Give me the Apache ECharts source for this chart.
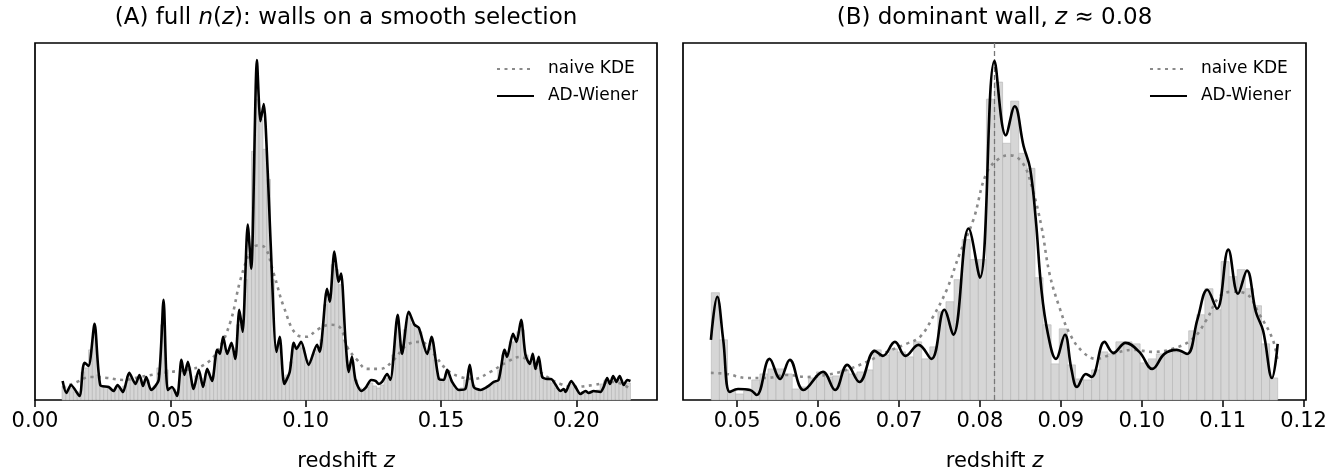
<!DOCTYPE html>
<html>
<head>
<meta charset="utf-8">
<script src="https://cdn.jsdelivr.net/npm/echarts@6/dist/echarts.min.js"></script>
<style>
  html, body { margin: 0; padding: 0; background: #fff; }
  #chart { width: 1343px; height: 474px; }
</style>
</head>
<body>
<div id="chart"></div>
<script>
// ---------- Panel A: full redshift range ----------
const histA_start = 0.01;      // first bin edge
const histA_width = 0.0014;    // bin width
const histA_counts = [
  1.4,1.0,1.2,0.8,0.8,2.8,3.2,5.0,6.8,2.5,
  1.4,1.3,1.2,1.0,1.3,1.0,1.4,2.4,2.0,1.8,
  2.2,1.5,2.0,1.2,1.4,3.2,7.5,3.0,1.2,1.1,
  0.8,3.4,2.8,3.3,1.6,2.4,2.2,1.5,2.8,2.2,
  4.2,5.0,5.8,4.8,5.2,4.6,7.5,7.2,12.0,14.5,
  24.8,30.0,28.0,25.0,22.0,12.0,5.5,5.5,2.2,2.5,
  3.8,5.2,5.4,5.2,4.0,3.8,4.6,5.0,6.0,9.5,
  10.0,13.5,13.0,11.5,6.0,3.5,3.8,2.0,1.2,1.0,
  1.3,1.7,1.4,1.2,1.5,2.2,2.0,4.5,7.8,5.5,
  7.0,8.2,7.6,7.2,6.8,5.5,4.8,5.8,4.0,2.2,
  1.8,2.6,2.0,1.4,1.1,1.2,2.0,3.0,1.5,1.1,
  1.0,1.2,1.4,1.6,1.7,3.0,4.5,4.4,5.8,5.8,
  6.8,7.0,4.5,3.6,3.8,3.6,2.4,2.0,2.0,1.7,
  1.2,0.9,1.0,1.2,1.6,1.2,0.7,0.8,0.7,0.8,
  0.8,1.0,1.6,2.0,1.8,2.1,2.0,2.0,1.5,1.7
];
const kdeA = [
  [0.0102,1.2],[0.0155,1.8],[0.0204,2.3],[0.0266,2.2],[0.0327,2.0],[0.0389,2.3],
  [0.0451,2.6],[0.0500,2.8],[0.0562,3.0],[0.0624,3.5],[0.0673,4.8],[0.0722,7.8],
  [0.0759,12.0],[0.0796,14.8],[0.0820,15.4],[0.0845,15.3],[0.0882,12.6],[0.0919,9.3],
  [0.0968,6.5],[0.1005,6.3],[0.1042,7.0],[0.1091,7.5],[0.1128,7.2],[0.1153,5.3],
  [0.1190,4.0],[0.1227,3.1],[0.1276,3.1],[0.1325,4.0],[0.1374,5.5],[0.1424,5.8],
  [0.1473,4.6],[0.1522,3.0],[0.1572,2.3],[0.1621,2.1],[0.1682,2.8],[0.1744,3.8],
  [0.1793,4.3],[0.1843,3.3],[0.1892,2.3],[0.1941,1.6],[0.1990,1.3],[0.2064,1.5],
  [0.2138,1.8],[0.2200,1.1]
];
const wienerA = [
  [0.0102,1.9],[0.0116,0.7],[0.0133,1.5],[0.0164,0.4],[0.0177,3.2],[0.0183,3.7],
  [0.0198,3.4],[0.0220,7.6],[0.0241,1.5],[0.0272,1.3],[0.0290,0.9],[0.0305,1.5],
  [0.0325,0.8],[0.0348,2.7],[0.0371,1.6],[0.0386,2.5],[0.0399,1.4],[0.0411,2.3],
  [0.0429,1.0],[0.0457,2.0],[0.0475,10.0],[0.0490,1.0],[0.0506,1.3],[0.0525,0.4],
  [0.0541,4.0],[0.0552,2.5],[0.0565,3.8],[0.0586,1.1],[0.0605,3.0],[0.0621,1.3],
  [0.0636,3.1],[0.0654,1.9],[0.0673,5.0],[0.0683,4.6],[0.0695,6.3],[0.0710,4.6],
  [0.0726,5.7],[0.0740,4.1],[0.0755,9.0],[0.0767,6.8],[0.0786,17.5],[0.0799,13.1],
  [0.0820,33.9],[0.0833,27.8],[0.0845,29.5],[0.0860,22.6],[0.0870,16.0],[0.0892,4.8],
  [0.0904,6.3],[0.0921,1.6],[0.0941,2.8],[0.0956,5.7],[0.0966,5.1],[0.0983,5.8],
  [0.1011,3.5],[0.1042,5.5],[0.1052,4.8],[0.1079,11.1],[0.1089,9.8],[0.1106,14.8],
  [0.1122,11.8],[0.1131,12.6],[0.1147,6.0],[0.1159,2.8],[0.1171,4.3],[0.1184,2.0],
  [0.1205,0.9],[0.1221,1.2],[0.1242,2.0],[0.1258,1.9],[0.1270,1.6],[0.1282,1.8],
  [0.1301,2.6],[0.1313,2.0],[0.1340,8.5],[0.1356,4.6],[0.1381,8.8],[0.1402,7.5],
  [0.1418,7.2],[0.1449,4.6],[0.1465,6.3],[0.1492,2.1],[0.1510,2.0],[0.1523,3.0],
  [0.1541,1.8],[0.1566,1.0],[0.1590,1.1],[0.1606,3.5],[0.1621,1.3],[0.1646,1.0],
  [0.1670,1.3],[0.1695,1.8],[0.1713,2.0],[0.1735,5.0],[0.1744,4.3],[0.1766,6.6],
  [0.1779,5.8],[0.1796,8.0],[0.1812,4.5],[0.1828,3.6],[0.1839,4.6],[0.1849,3.1],
  [0.1861,4.3],[0.1874,2.3],[0.1892,2.1],[0.1907,2.1],[0.1917,1.8],[0.1941,0.9],
  [0.1954,1.1],[0.1960,0.8],[0.1981,1.9],[0.1997,1.3],[0.2015,0.6],[0.2034,0.9],
  [0.2046,0.7],[0.2064,0.9],[0.2089,0.8],[0.2101,1.3],[0.2114,2.2],[0.2124,1.6],
  [0.2136,2.4],[0.2148,1.8],[0.2160,2.4],[0.2175,1.5],[0.2188,2.0],[0.2200,1.9]
];
const ticksA = [0.00, 0.05, 0.10, 0.15, 0.20];

// ---------- Panel B: zoom on the dominant wall ----------
const histB_start = 0.0468;
const histB_width = 0.001;
const histB_counts = [
  10.7,6.0,0.9,0.6,0.9,2.0,2.6,3.1,3.1,2.6,
  1.1,1.3,2.2,2.8,2.3,2.4,3.0,2.6,2.8,3.0,
  5.0,4.5,5.1,4.8,4.3,5.8,4.1,5.3,8.8,9.8,
  12.0,16.0,14.0,14.0,30.0,31.7,25.6,29.8,24.6,23.1,
  12.2,7.5,3.6,7.1,3.5,2.1,2.0,3.0,4.8,4.6,
  5.8,5.8,5.6,3.7,4.1,4.6,4.9,4.8,4.6,6.9,
  8.5,11.1,9.0,13.8,12.3,13.0,11.1,9.4,5.6,2.2
];
const kdeB = [
  [0.04675,2.7],[0.0487,2.6],[0.0512,2.2],[0.0536,2.2],[0.0561,2.5],[0.0586,2.3],
  [0.0610,2.5],[0.0635,3.0],[0.0660,3.8],[0.0685,4.8],[0.0709,5.6],[0.0726,6.3],
  [0.0742,8.3],[0.0759,11.0],[0.0775,14.6],[0.0792,18.0],[0.0808,22.6],[0.0824,24.1],
  [0.0837,24.4],[0.0853,23.6],[0.0865,21.0],[0.0876,17.3],[0.0886,12.6],[0.0898,9.3],
  [0.0911,6.6],[0.0927,4.8],[0.0944,4.1],[0.0964,4.6],[0.0989,5.0],[0.1014,4.8],
  [0.1038,5.1],[0.1063,6.1],[0.1080,8.0],[0.1096,10.3],[0.1112,10.8],[0.1129,10.6],
  [0.1145,8.6],[0.1162,6.0],[0.1168,3.8]
];
const wienerB = [
  [0.04675,6.0],[0.04753,10.3],[0.04827,6.0],[0.0491,0.8],[0.0501,1.1],[0.0516,1.0],
  [0.0524,0.5],[0.0540,4.1],[0.0553,2.1],[0.0565,4.0],[0.0582,1.0],[0.0606,2.8],
  [0.0621,1.0],[0.0636,3.5],[0.0651,1.8],[0.0670,4.9],[0.0680,4.4],[0.0695,5.8],
  [0.0708,4.4],[0.0724,5.5],[0.0740,4.1],[0.0756,9.0],[0.0767,6.5],[0.0786,17.1],
  [0.0800,12.2],[0.0818,33.8],[0.0832,26.4],[0.0843,29.3],[0.0854,25.3],[0.0862,23.1],
  [0.0869,18.0],[0.0876,11.0],[0.0884,6.6],[0.0894,4.1],[0.0905,6.5],[0.0913,3.1],
  [0.0920,1.3],[0.0931,2.6],[0.0938,2.3],[0.0954,5.8],[0.0965,4.7],[0.0980,5.7],
  [0.0997,4.8],[0.1013,3.1],[0.1028,4.6],[0.1043,5.0],[0.1056,4.6],[0.1069,8.1],
  [0.1081,11.0],[0.1093,9.1],[0.1107,15.0],[0.1119,10.6],[0.1130,12.9],[0.1141,8.8],
  [0.1150,6.9],[0.1161,2.2],[0.1168,5.6]
];
const wallZ = 0.0818;
const ticksB = [0.05, 0.06, 0.07, 0.08, 0.09, 0.10, 0.11, 0.12];
const Y_TOP = 35.6;   // upper limit of the density axis in both panels

// ---------- helpers ----------
const FONT = "'DejaVu Sans', sans-serif";

function binsOf(start, width, counts) {
  return counts.map((c, i) => [start + i * width, start + (i + 1) * width, c]);
}

function renderBin(params, api) {
  const top = api.coord([api.value(0), api.value(2)]);
  const base = api.coord([api.value(1), 0]);
  return {
    type: 'rect',
    shape: { x: top[0], y: top[1], width: base[0] - top[0], height: base[1] - top[1] },
    style: { fill: '#d6d6d6', stroke: '#b3b3b3', lineWidth: 0.6 }
  };
}

function xAxisFor(gridIndex, min, max, ticks) {
  return {
    type: 'value', gridIndex, min, max,
    axisLine: { show: false },
    splitLine: { show: false },
    axisTick: {
      show: true, length: 7, inside: false, customValues: ticks,
      lineStyle: { color: '#000', width: 1.5 }
    },
    axisLabel: {
      customValues: ticks, margin: 11,
      formatter: v => v.toFixed(2),
      fontFamily: FONT, fontSize: 21, color: '#000'
    },
    name: '{r|redshift }{i|z}',
    nameLocation: 'middle', nameGap: 51,
    nameTextStyle: {
      rich: {
        r: { fontFamily: FONT, fontSize: 21, color: '#000' },
        i: { fontFamily: FONT, fontSize: 21, color: '#000', fontStyle: 'italic' }
      }
    }
  };
}

function yAxisFor(gridIndex) {
  return { type: 'value', gridIndex, min: 0, max: Y_TOP, show: false };
}

function legendFor(right) {
  return {
    data: ['naive KDE', 'AD-Wiener'],
    orient: 'vertical', right, top: 59, padding: 0,
    itemWidth: 37, itemHeight: 14, itemGap: 7, align: 'left',
    itemStyle: { opacity: 0 },
    textStyle: { fontFamily: FONT, fontSize: 17, color: '#000', lineHeight: 20, padding: [0, 0, 0, 9] },
    selectedMode: false
  };
}

const kdeStyle = { color: '#8a8a8a', width: 2.6, type: [3, 4.5], cap: 'butt' };
const wienerStyle = { color: '#000', width: 2.6 };

const titleRich = {
  r: { fontFamily: FONT, fontSize: 23, fill: '#000' },
  i: { fontFamily: FONT, fontSize: 23, fill: '#000', fontStyle: 'italic' }
};

const option = {
  animation: false,
  backgroundColor: '#fff',
  grid: [
    { left: 35, top: 43, width: 622, height: 357, show: true, borderColor: '#000', borderWidth: 1.7, backgroundColor: 'transparent', outerBoundsMode: 'none', containLabel: false },
    { left: 683, top: 43, width: 623, height: 357, show: true, borderColor: '#000', borderWidth: 1.7, backgroundColor: 'transparent', outerBoundsMode: 'none', containLabel: false }
  ],
  xAxis: [
    xAxisFor(0, 0, 0.2298, ticksA),
    xAxisFor(1, 0.0433, 0.1203, ticksB)
  ],
  yAxis: [yAxisFor(0), yAxisFor(1)],
  legend: [legendFor(705), legendFor(52)],
  graphic: [
    {
      type: 'text', x: 346, y: 18, silent: true,
      style: {
        text: '{r|(A) full }{i|n}{r|(}{i|z}{r|): walls on a smooth selection}',
        rich: titleRich, align: 'center', verticalAlign: 'middle'
      }
    },
    {
      type: 'text', x: 994.5, y: 18, silent: true,
      style: {
        text: '{r|(B) dominant wall, }{i|z}{r| \u2248 0.08}',
        rich: titleRich, align: 'center', verticalAlign: 'middle'
      }
    }
  ],
  series: [
    {
      type: 'custom', name: 'histA', xAxisIndex: 0, yAxisIndex: 0, z: 1,
      renderItem: renderBin, encode: { x: [0, 1], y: 2 },
      data: binsOf(histA_start, histA_width, histA_counts), silent: true
    },
    {
      type: 'line', name: 'naive KDE', xAxisIndex: 0, yAxisIndex: 0, z: 2,
      data: kdeA, symbol: 'none', smooth: 0.4, lineStyle: kdeStyle, itemStyle: { color: '#8a8a8a' }
    },
    {
      type: 'line', name: 'AD-Wiener', xAxisIndex: 0, yAxisIndex: 0, z: 3,
      data: wienerA, symbol: 'none', smooth: 0.25, lineStyle: wienerStyle, itemStyle: { color: '#000' }
    },
    {
      type: 'custom', name: 'histB', xAxisIndex: 1, yAxisIndex: 1, z: 1,
      renderItem: renderBin, encode: { x: [0, 1], y: 2 },
      data: binsOf(histB_start, histB_width, histB_counts), silent: true
    },
    {
      // vertical marker at the wall centre
      type: 'line', name: 'wall', xAxisIndex: 1, yAxisIndex: 1, z: 2,
      data: [[wallZ, 0], [wallZ, Y_TOP]], symbol: 'none', silent: true,
      lineStyle: { color: '#777', type: [5, 3], width: 1.3 }
    },
    {
      type: 'line', name: 'naive KDE', xAxisIndex: 1, yAxisIndex: 1, z: 2,
      data: kdeB, symbol: 'none', smooth: 0.4, lineStyle: kdeStyle, itemStyle: { color: '#8a8a8a' }
    },
    {
      type: 'line', name: 'AD-Wiener', xAxisIndex: 1, yAxisIndex: 1, z: 3,
      data: wienerB, symbol: 'none', smooth: 0.4, lineStyle: wienerStyle, itemStyle: { color: '#000' }
    }
  ]
};

const chart = echarts.init(document.getElementById('chart'), null, { renderer: 'canvas' });
chart.setOption(option);
</script>
</body>
</html>
